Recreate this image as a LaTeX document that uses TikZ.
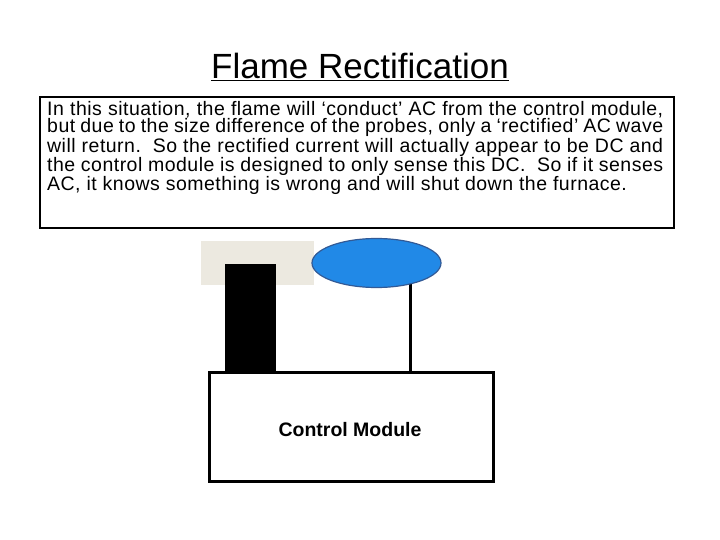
\documentclass[tikz,border=0pt]{standalone}
\usepackage{fontspec}
\setmainfont{Liberation Sans}
\begin{document}
\begin{tikzpicture}[x=1pt,y=-1pt,
  box/.style={draw=black,line width=2.5pt,fill=white}]
\useasboundingbox (0,0) rectangle (720,540);
\node (title) at (360,67) {\fontsize{35}{40}\selectfont\underline{Flame Rectification}};
\draw[box] (40,97) rectangle (674,228);
\node[anchor=north west,text width=616,inner sep=0pt,align=justify] (txt) at (47,101)
 {\fontsize{19.5}{21.8}\selectfont\addfontfeature{LetterSpace=2.5} In this situation, the flame will ‘conduct’ AC from the control module, but due to the size difference of the probes, only a ‘rectified’ AC wave will return.\ \ So the rectified current will actually appear to be DC and the control module is designed to only sense this DC.\ \ So if it senses AC, it knows something is wrong and will shut down the furnace.};
\fill[fill={rgb,255:red,236;green,233;blue,224}] (201,241) rectangle (314,285);
\fill[black] (225,264) rectangle (276,373);
\draw[line width=3pt] (410,280) -- (410,373);
\draw[fill={rgb,255:red,33;green,137;blue,231},draw={rgb,255:red,50;green,90;blue,150},line width=1.2pt] (376.5,263) ellipse (64.5 and 24.5);
\draw[box,line width=3pt] (209,372) rectangle (493,481);
\node (cm) at (350,430) {\fontsize{19.5}{24}\selectfont\bfseries Control Module};
\end{tikzpicture}
\end{document}
